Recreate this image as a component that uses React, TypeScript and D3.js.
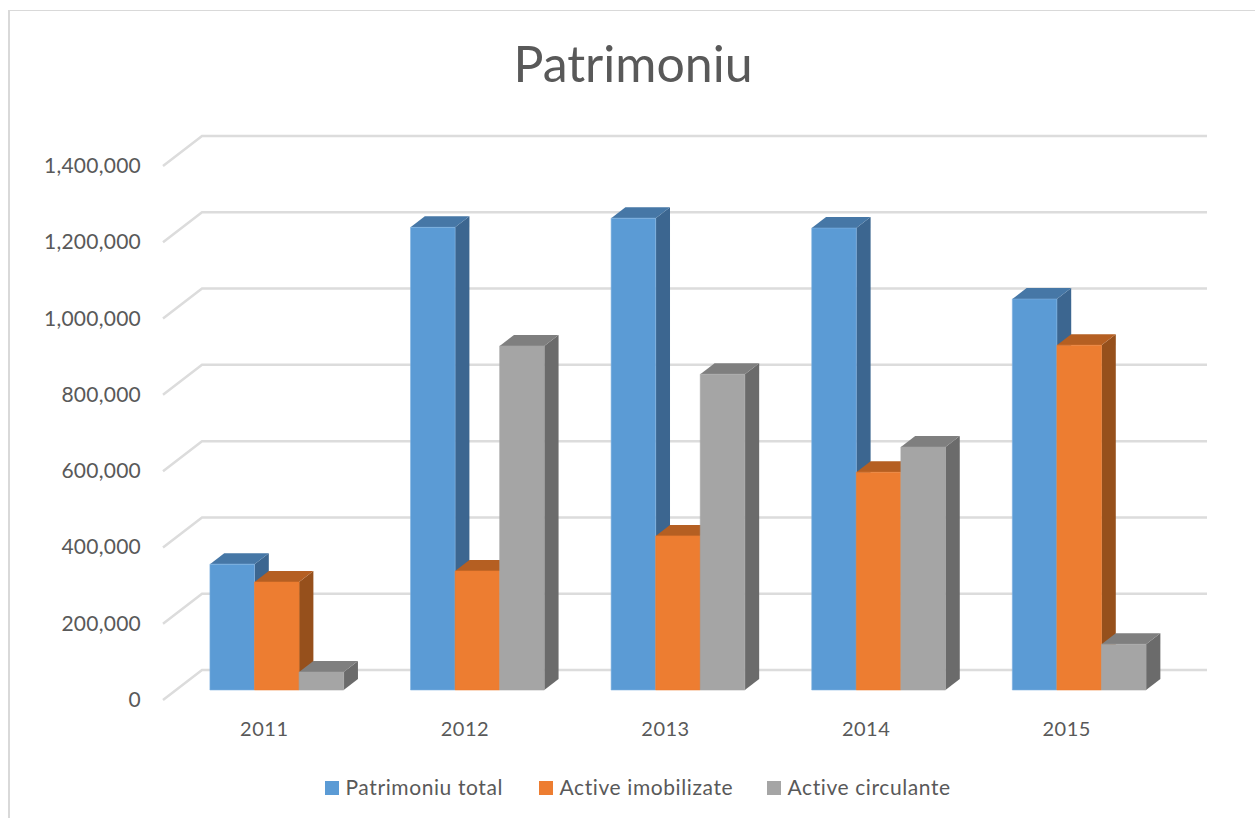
import * as d3 from 'd3';
import React from 'react';

const years = ['2011', '2012', '2013', '2014', '2015'];
const seriesNames = ['Patrimoniu total', 'Active imobilizate', 'Active circulante'];
const patrimoniuTotal = [330000, 1213000, 1237000, 1211000, 1025000];
const activeImobilizate = [283000, 312000, 404000, 571000, 904000];
const activeCirculante = [47000, 902000, 828000, 637000, 120000];
const seriesValues = [patrimoniuTotal, activeImobilizate, activeCirculante];
const yTicks = [0, 200000, 400000, 600000, 800000, 1000000, 1200000, 1400000];

const frontColors = ['#5B9BD5', '#ED7D31', '#A5A5A5'];
const topColors = ['#4677A6', '#B55F22', '#7F7F7F'];
const sideColors = ['#3C6690', '#96501C', '#6B6B6B'];
const edgeColors = ['#7FB1E0', '#ED7D31', '#A5A5A5'];

const FONT = 'Lato, sans-serif';
const TEXT = '#595959';

// oblique projection: depth 1 moves this far from the front of the floor to the back wall
const DEPTH_X = 39;
const DEPTH_Y = -30;
const BAR_Z0 = 0.333;
const BAR_Z1 = 0.7;

function App() {
  const width = 1255;
  const height = 818;

  const x0 = d3.scaleBand().domain(years).range([163.5, 1166.5]);
  const x1 = d3.scaleBand().domain(seriesNames).range([0, x0.bandwidth()]).paddingInner(0).paddingOuter(0.75);
  const y = d3.scaleLinear().domain([0, 1400000]).range([700, 166]);
  const fmt = d3.format(',');

  const bars = seriesNames.flatMap((name, s) =>
    years.map((year, i) => {
      const left = x0(year)! + x1(name)!;
      const right = left + x1.bandwidth();
      const base = y(0);
      const top = y(seriesValues[s][i]);
      const p = (px: number, py: number, z: number) => [px + DEPTH_X * z, py + DEPTH_Y * z];
      const a = p(left, top, BAR_Z0);
      const b = p(right, top, BAR_Z0);
      const c = p(right, base, BAR_Z0);
      const bt = p(right, top, BAR_Z1);
      const bb = p(right, base, BAR_Z1);
      const at = p(left, top, BAR_Z1);
      const fb = p(left, base, BAR_Z0);
      return { s, year, a, b, c, bt, bb, at, fb };
    })
  );
  const line = d3.line();

  return (
    <svg width={width} height={height} style={{ position: 'absolute', left: 0, top: 0 }}>
      <rect x={0} y={0} width={width} height={height} fill="#ffffff" />
      <path d="M1255,10.5H9" fill="none" stroke="#d9d9d9" strokeWidth={1} />
      <path d="M9,10V818" fill="none" stroke="#d9d9d9" strokeWidth={2} />

      <text x={633} y={82} textAnchor="middle" fontFamily={FONT} fontSize={50} fill={TEXT}>Patrimoniu</text>

      {yTicks.map(t => (
        <g key={t}>
          <path
            d={line([[163, y(t)], [163 + DEPTH_X, y(t) + DEPTH_Y], [1207, y(t) + DEPTH_Y]])!}
            fill="none" stroke="#dcdcdc" strokeWidth={2.5}
          />
          <text x={141} y={y(t) + 7} textAnchor="end" fontFamily={FONT} fontSize={21} letterSpacing={0.25} fill={TEXT}>{fmt(t)}</text>
        </g>
      ))}

      {bars.map(d => (
        <g key={d.year + d.s}>
          <path d={line([d.b, d.bt, d.bb, d.c])! + 'Z'} fill={sideColors[d.s]} />
          <path d={line([d.a, d.at, d.bt, d.b])! + 'Z'} fill={topColors[d.s]} />
          <path d={line([d.a, d.b, d.c, d.fb])! + 'Z'} fill={frontColors[d.s]} stroke={edgeColors[d.s]} strokeWidth={0.6} />
        </g>
      ))}

      {years.map(year => (
        <text key={year} x={x0(year)! + x0.bandwidth() / 2 + 0.5} y={736} textAnchor="middle" fontFamily={FONT} fontSize={20} letterSpacing={0.5} fill={TEXT}>{year}</text>
      ))}

      {seriesNames.map((name, s) => {
        const swatchX = [325, 539, 767][s];
        return (
          <g key={name}>
            <rect x={swatchX} y={781} width={14} height={14} fill={frontColors[s]} />
            <text x={swatchX + 20.5} y={795} fontFamily={FONT} fontSize={21} letterSpacing={0.6} fill={TEXT}>{name}</text>
          </g>
        );
      })}
    </svg>
  );
}

export default App;
